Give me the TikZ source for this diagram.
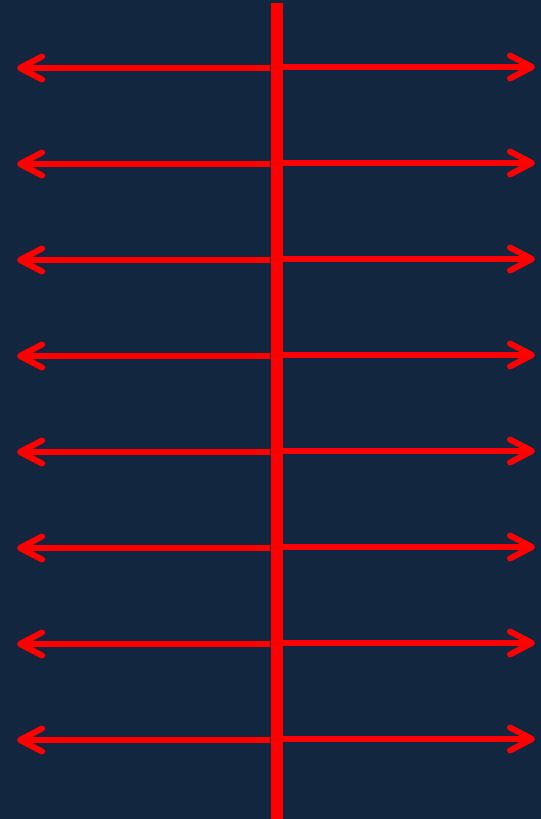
\documentclass[tikz,border=0pt]{standalone}
\usetikzlibrary{arrows.meta}
\definecolor{bgnavy}{HTML}{13263F}
\definecolor{spred}{HTML}{FF0000}
\tikzset{
  spine/.style={draw=spred,line width=12*0.02cm},
  ray/.style={draw=spred,line width=6*0.02cm,
              -{Straight Barb[length=4.4mm,width=4.6mm,line cap=round,line join=round]}},
}
\begin{document}
\begin{tikzpicture}[x=0.02cm,y=-0.02cm]
  \fill[bgnavy] (0,0) rectangle (541,819);
  \useasboundingbox (0,0) rectangle (541,819);
  % centre line
  \coordinate (top) at (277,3);
  \coordinate (bot) at (277,819);
  \draw[spine] (top) -- (bot);
  % rays on both sides
  \foreach \i/\yl/\yr in {1/68/67,2/164/163,3/260/259,4/356/355,5/452/451,6/548/547,7/644/643,8/740/739}{
    \coordinate (l\i a) at (270,\yl);
    \coordinate (l\i b) at (17,\yl);
    \coordinate (r\i a) at (283,\yr);
    \coordinate (r\i b) at (535,\yr);
    \draw[ray] (l\i a) -- (l\i b);
    \draw[ray] (r\i a) -- (r\i b);
  }
\end{tikzpicture}
\end{document}
